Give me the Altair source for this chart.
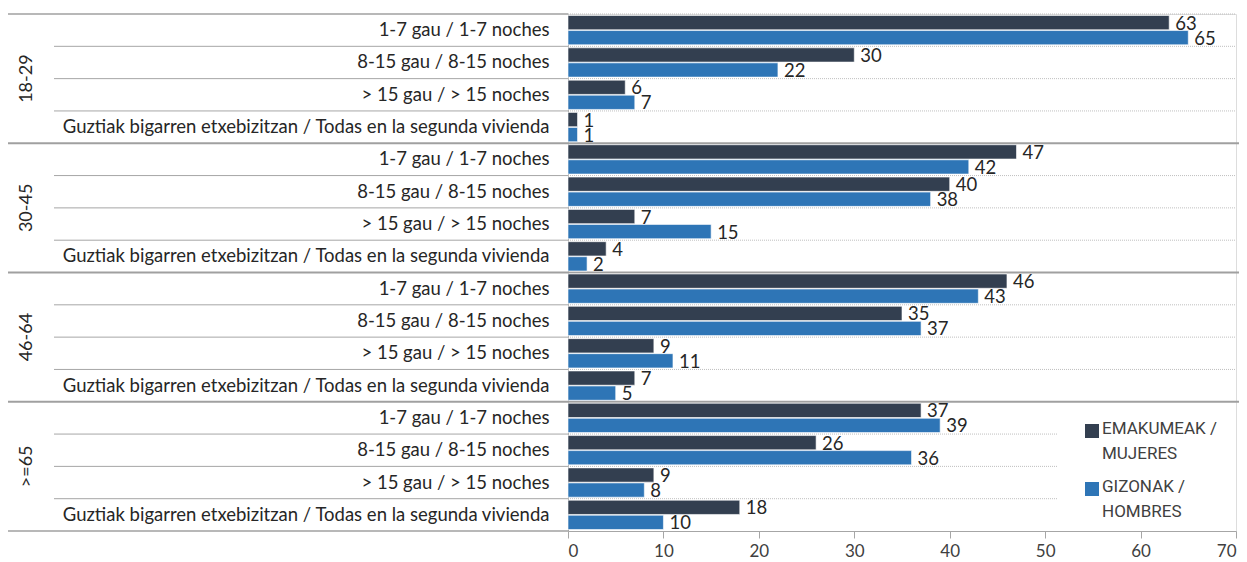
import altair as alt
import pandas as pd

groups = ["18-29", "30-45", "46-64", ">=65"]
categories = [
    "1-7 gau / 1-7 noches",
    "8-15 gau / 8-15 noches",
    "> 15 gau / > 15 noches",
    "Guztiak bigarren etxebizitzan / Todas en la segunda vivienda",
]
series = ["EMAKUMEAK / MUJERES", "GIZONAK / HOMBRES"]
legend_text = ["EMAKUMEAK /\nMUJERES", "GIZONAK /\nHOMBRES"]
women = [63, 30, 6, 1, 47, 40, 7, 4, 46, 35, 9, 7, 37, 26, 9, 18]
men = [65, 22, 7, 1, 42, 38, 15, 2, 43, 37, 11, 5, 39, 36, 8, 10]
colors = ["#333F50", "#2E75B6"]
x_ticks = [0, 10, 20, 30, 40, 50, 60, 70]

FONT = "Lato"
W, H = 668, 517

keys = []
rows = []
bars = []
for gi, g in enumerate(groups):
    for ci, c in enumerate(categories):
        i = gi * 4 + ci
        k = f"{g}|{c}"
        keys.append(k)
        rows.append({"key": k, "group": g, "gi": gi, "ci": ci})
        bars.append({"key": k, "series": series[0], "value": women[i]})
        bars.append({"key": k, "series": series[1], "value": men[i]})

rows_df = pd.DataFrame(rows)
bars_df = pd.DataFrame(bars)

yband = alt.Scale(domain=keys, paddingInner=0, paddingOuter=0)
y_plain = alt.Y("key:N", scale=yband, title=None)
y_top = alt.Y("key:N", scale=yband, title=None, bandPosition=0)
y_bot = alt.Y("key:N", scale=yband, title=None, bandPosition=1)
xscale = alt.Scale(domain=[0, 70], nice=False)
yoff = alt.YOffset("series:N", sort=series,
                   scale=alt.Scale(domain=series, paddingInner=0.05, paddingOuter=0.1))

base_rows = alt.Chart(rows_df)

bars_layer = alt.Chart(bars_df).mark_bar(stroke="white", strokeWidth=0.6).encode(
    y=alt.Y("key:N", scale=yband, title=None,
            axis=alt.Axis(labelExpr="split(datum.label, '|')[1]", ticks=False,
                          domain=True, domainColor="#A6A6A6", domainWidth=1,
                          labelFont=FONT, labelFontSize=18.5, labelColor="#262626",
                          labelPadding=19, labelLimit=600)),
    yOffset=yoff,
    x=alt.X("value:Q", scale=xscale, title=None,
            axis=alt.Axis(values=x_ticks, grid=False, domainColor="#A6A6A6",
                          tickColor="#A6A6A6", tickSize=7, labelFont=FONT,
                          labelFontSize=17, labelColor="#404040", labelPadding=5)),
    color=alt.Color("series:N", scale=alt.Scale(domain=series, range=colors), legend=None),
)

labels_layer = alt.Chart(bars_df).mark_text(
    align="left", baseline="middle", dx=6, dy=1, font=FONT, fontSize=18.5, color="#262626"
).encode(
    y=y_plain, yOffset=yoff,
    x=alt.X("value:Q", scale=xscale, title=None),
    text=alt.Text("value:Q", format=".0f"),
)

# separators in label area (category rows)
cat_label_lines = base_rows.transform_filter("datum.ci > 0").mark_rule(
    color="#A6A6A6", strokeWidth=1).encode(
    y=y_top, x=alt.value(-514), x2=alt.value(0))

# dotted lines in plot area
dot_full = base_rows.transform_filter("(datum.ci > 0 && datum.gi < 3) || (datum.gi == 0 && datum.ci == 0)").mark_rule(
    color="#BFBFBF", strokeWidth=1, strokeDash=[1, 1]).encode(
    y=y_top, x=alt.value(0), x2=alt.value(667))
dot_short = base_rows.transform_filter("datum.ci > 0 && datum.gi == 3").mark_rule(
    color="#BFBFBF", strokeWidth=1, strokeDash=[1, 1]).encode(
    y=y_top, x=alt.value(0), x2=alt.value(490))

# group separators
group_lines = base_rows.transform_filter("datum.ci == 0 && datum.gi > 0").mark_rule(
    color="#A0A0A0", strokeWidth=2).encode(
    y=y_top, x=alt.value(-560), x2=alt.value(671))
top_line = base_rows.transform_filter("datum.ci == 0 && datum.gi == 0").mark_rule(
    color="#A0A0A0", strokeWidth=1.5).encode(
    y=y_top, x=alt.value(-560), x2=alt.value(0))
bottom_line = base_rows.transform_filter("datum.ci == 3 && datum.gi == 3").mark_rule(
    color="#A0A0A0", strokeWidth=1.5).encode(
    y=y_bot, x=alt.value(-560), x2=alt.value(0))

# group labels (rotated)
group_labels = base_rows.transform_filter("datum.ci == 1").mark_text(
    angle=270, align="center", baseline="middle", font=FONT, fontSize=18, color="#262626"
).encode(y=y_bot, x=alt.value(-541), text="group:N")

# legend
leg_df = pd.DataFrame({"series": series, "label": legend_text})
leg_layers = []
for s, yy in zip(series, [417, 475]):
    d = alt.Chart(leg_df).transform_filter(alt.datum.series == s)
    leg_layers.append(d.mark_square(size=196, opacity=1).encode(
        x=alt.value(524), y=alt.value(yy),
        color=alt.Color("series:N", scale=alt.Scale(domain=series, range=colors), legend=None)))
    leg_layers.append(d.mark_text(align="left", baseline="top", lineBreak="\n",
                                  lineHeight=25, font="Roboto",
                                  fontSize=17, color="#404040").encode(
        x=alt.value(534), y=alt.value(yy - 10), text="label:N"))

chart = alt.layer(
    cat_label_lines, dot_full, dot_short, group_lines, top_line, bottom_line,
    bars_layer, labels_layer, group_labels, *leg_layers
).properties(
    width=W, height=H,
    autosize=alt.AutoSizeParams(type="none"),
    padding={"left": 560, "top": 6, "right": 3, "bottom": 31},
).configure_view(stroke=None).configure(background="white")

chart.save("out.html", embed_options={"renderer": "svg", "actions": False})
